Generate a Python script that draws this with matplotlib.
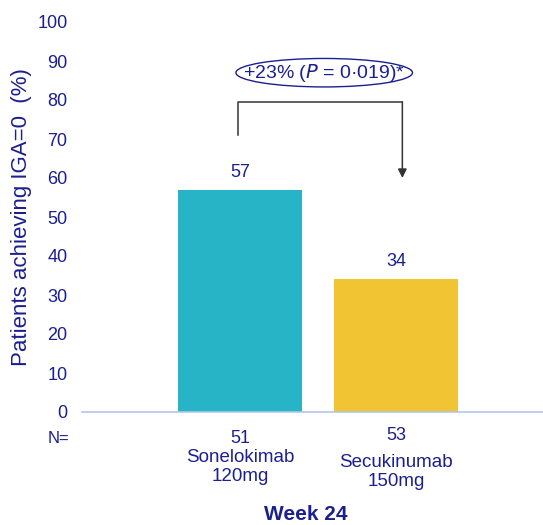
import matplotlib

matplotlib.use("Agg")
import matplotlib.pyplot as plt
from matplotlib.patches import Ellipse

plt.rcParams["font.family"] = ["Liberation Sans", "DejaVu Sans"]

NAVY = "#1B1F8F"
drugs = ["Sonelokimab\n120mg", "Secukinumab\n150mg"]
n_patients = [51, 53]
iga0_pct = [57, 34]
bar_colors = ["#27B4C6", "#F0C433"]
yticks = list(range(0, 101, 10))
diff_label = r"+23% ($P$ = 0·019)*"
week = "Week 24"

fig = plt.figure(figsize=(5.43, 5.25), dpi=100)
ax = fig.add_axes([82 / 543, 113 / 525, 461 / 543, 390 / 525])

x = list(range(len(drugs)))
ax.bar(x, iga0_pct, width=0.79, color=bar_colors)
for xi, v in zip(x, iga0_pct):
    ax.text(xi, v + 2.3, f"{v}", ha="center", va="bottom", fontsize=13, color=NAVY)

ax.set_xlim(-1.01, 1.94)
ax.set_ylim(0, 100)
ax.set_yticks(yticks)
ax.tick_params(axis="y", length=0, labelsize=13, labelcolor=NAVY, pad=10.5)
ax.set_xticks([])
for s in ("top", "right", "left"):
    ax.spines[s].set_visible(False)
ax.spines["bottom"].set_color("#B4C6EA")
ax.spines["bottom"].set_linewidth(1.2)
ax.set_ylabel("Patients achieving IGA=0  (%)", fontsize=16, color=NAVY)
ax.yaxis.set_label_coords(-0.108, 0.5)

# bracket from the sonelokimab bar to the secukinumab bar
top = 79.5
ax.plot([x[0] - 0.01, x[0] - 0.01, x[1] + 0.04], [71, top, top], color="#333333", lw=1.1,
        clip_on=False)
ax.annotate("", xy=(x[1] + 0.04, 60), xytext=(x[1] + 0.04, top),
            arrowprops=dict(arrowstyle="-|>", color="#333333", lw=1.1, mutation_scale=13,
                            shrinkA=0, shrinkB=0))
cx = (x[0] + x[1]) / 2 + 0.04
ax.add_patch(Ellipse((cx, 87.0), 1.13, 7.3, fill=False, edgecolor=NAVY, lw=1.0,
                     clip_on=False))
ax.text(cx, 87.0, diff_label, ha="center", va="center", fontsize=14, color=NAVY)

# group labels below the axis
ax.text(-1.01 - 0.08, -6.7, "N=", ha="right", va="center", fontsize=12, color=NAVY)
for xi, n, name in zip(x, n_patients, drugs):
    ax.text(xi, -6.7 + 0.6 * xi, f"{n}", ha="center", va="center", fontsize=13,
            color=NAVY)
    ax.text(xi, -9.6 - 1.1 * xi, name, ha="center", va="top", fontsize=13.5,
            color=NAVY, linespacing=1.15)
fig.text(306 / 543, 11 / 525, week, ha="center", va="center", fontsize=15,
         fontweight="bold", color=NAVY)

fig.savefig("out.png", dpi=100)
